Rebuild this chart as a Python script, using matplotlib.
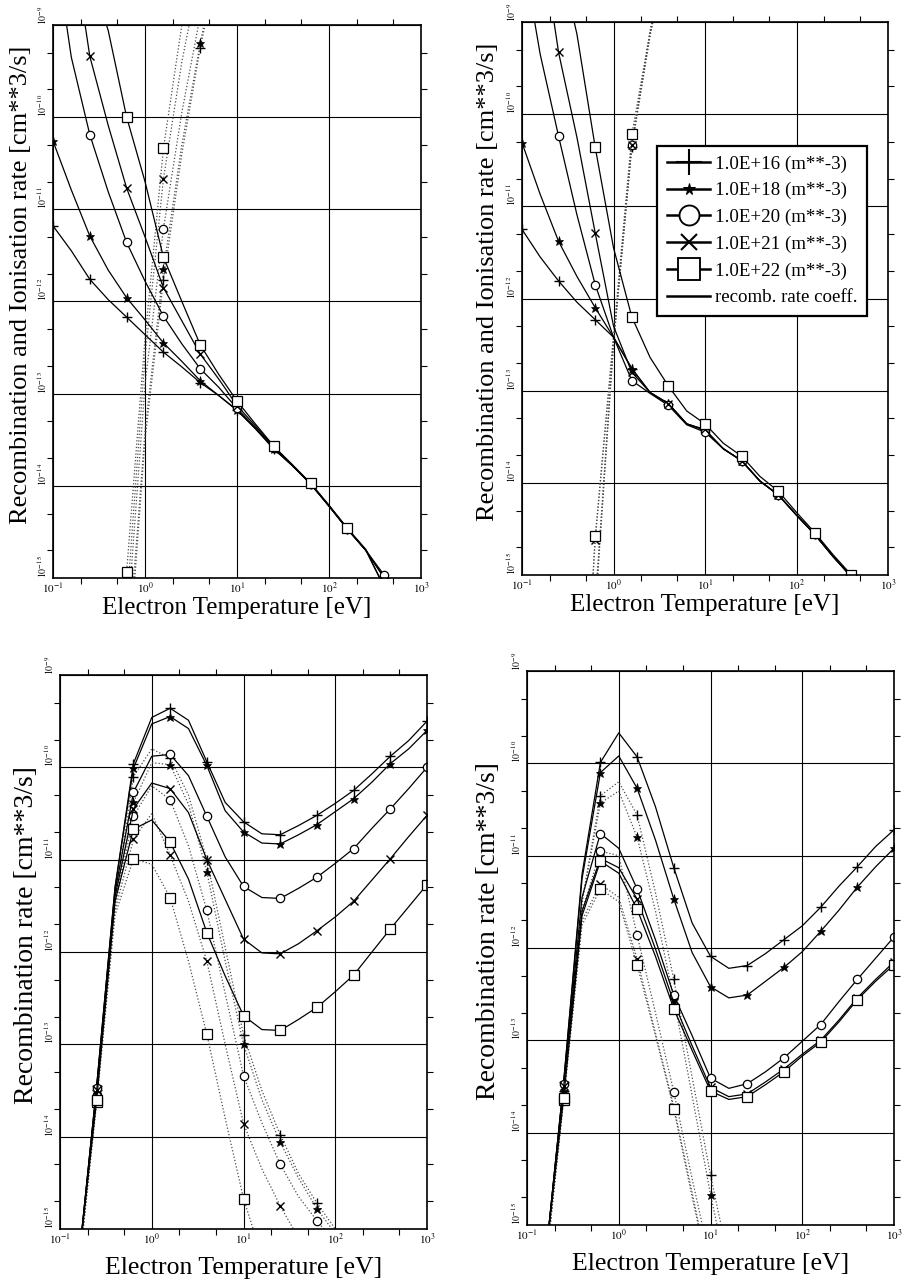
import numpy as np
import matplotlib
matplotlib.use("Agg")
import matplotlib.pyplot as plt
import matplotlib.transforms as mtransforms
from matplotlib.lines import Line2D
from matplotlib.ticker import LogLocator, NullFormatter

plt.rcParams['font.family'] = ['Liberation Serif', 'DejaVu Serif']
plt.rcParams['mathtext.fontset'] = 'stix'

nan = float('nan')

# electron temperature grid [eV] (curves every 0.2 decade, symbols every 0.4 decade)
te = [0.1, 0.158, 0.251, 0.398, 0.631, 1.0, 1.585, 2.512, 3.981, 6.31, 10.0,
      15.85, 25.12, 39.81, 63.1, 100.0, 158.5, 251.2, 398.1, 631.0, 1000.0]

dens_labels = ['1.0E+16 (m**-3)', '1.0E+18 (m**-3)', '1.0E+20 (m**-3)',
               '1.0E+21 (m**-3)', '1.0E+22 (m**-3)']
marks = ['+', '*', 'o', 'x', 's']

# all rates given as log10 of [cm**3/s]

# top left panel
tl_16 = [-11.18, -11.45, -11.76, -11.98, -12.17, -12.36, -12.55, -12.71, -12.88, -13.02, -13.18,
         -13.38, -13.60, -13.78, -13.98, -14.22, -14.47, -14.70, -15.0, -15.25, -15.5]
tl_18 = [-10.26, -10.79, -11.29, -11.66, -11.96, -12.20, -12.45, -12.65, -12.86, -13.02, -13.18,
         -13.38, -13.60, -13.78, -13.98, -14.22, -14.47, -14.70, -15.0, -15.25, -15.5]
tl_20 = [-8.0, -9.35, -10.19, -10.81, -11.36, -11.78, -12.16, -12.46, -12.73, -12.93, -13.16,
         -13.37, -13.59, -13.78, -13.98, -14.22, -14.47, -14.70, -14.97, -15.25, -15.5]
tl_21 = [-7.0, -8.0, -9.34, -10.09, -10.77, -11.30, -11.85, -12.21, -12.57, -12.84, -13.13,
         -13.35, -13.58, -13.77, -13.98, -14.22, -14.47, -14.70, -15.1, -15.25, -15.5]
tl_22 = [-6.5, -7.5, -8.45, -9.06, -10.0, -10.70, -11.52, -12.0, -12.47, -12.79, -13.08,
         -13.33, -13.57, -13.77, -13.97, -14.21, -14.46, -14.69, -15.1, -15.25, -15.5]
tl_16d = [nan, nan, nan, -18.0, -16.2, -13.5, -11.77, -10.4, -9.25, -8.3] + [nan] * 11
tl_18d = [nan, nan, nan, -18.0, -16.0, -13.4, -11.65, -10.3, -9.2, -8.2] + [nan] * 11
tl_20d = [nan, nan, nan, -18.0, -15.6, -12.9, -11.21, -9.95, -8.9, nan] + [nan] * 11
tl_21d = [nan, nan, nan, -18.0, -15.3, -12.6, -10.67, -9.4, -8.4, nan] + [nan] * 11
tl_22d = [nan, nan, nan, -18.0, -14.93, -12.4, -10.34, -9.0, -8.0, nan] + [nan] * 11

# top right panel
tr_16 = [-11.25, -11.55, -11.81, -12.04, -12.23, -12.42, -12.76, -13.02, -13.14, -13.36, -13.43,
         -13.63, -13.76, -13.98, -14.13, -14.35, -14.56, -14.80, -15.02, -15.3, -15.6]
tr_18 = [-10.31, -10.87, -11.38, -11.76, -12.10, -12.42, -12.76, -13.02, -13.14, -13.36, -13.43,
         -13.63, -13.76, -13.98, -14.13, -14.35, -14.56, -14.80, -15.02, -15.3, -15.6]
tr_20 = [-8.2, -9.35, -10.24, -11.09, -11.85, -12.42, -12.89, -13.03, -13.16, -13.37, -13.45,
         -13.63, -13.76, -13.98, -14.13, -14.35, -14.56, -14.80, -15.02, -15.3, -15.6]
tr_21 = [-7.0, -8.0, -9.33, -10.25, -11.29, -12.30, -12.80, -13.02, -13.14, -13.36, -13.42,
         -13.63, -13.76, -13.98, -14.13, -14.35, -14.56, -14.80, -15.02, -15.3, -15.6]
tr_22 = [-6.5, -7.5, -8.26, -9.13, -10.36, -11.45, -12.20, -12.64, -12.95, -13.22, -13.36,
         -13.57, -13.71, -13.93, -14.09, -14.32, -14.54, -14.78, -15.0, -15.3, -15.6]
tr_16d = [nan, nan, nan, -18.0, -15.4, -12.5, -10.36, -9.15, -8.2] + [nan] * 12
tr_18d = [nan, nan, nan, -18.0, -15.35, -12.48, -10.33, -9.13, -8.2] + [nan] * 12
tr_20d = [nan, nan, nan, -18.0, -15.3, -12.46, -10.33, -9.12, -8.2] + [nan] * 12
tr_21d = [nan, nan, nan, -18.0, -14.62, -12.44, -10.33, -9.10, -8.2] + [nan] * 12
tr_22d = [nan, nan, nan, -18.0, -14.58, -12.40, -10.22, -9.10, -8.2] + [nan] * 12

# bottom left panel
bl_16 = [-17.5, -15.4, -13.45, -11.30, -9.96, -9.46, -9.36, -9.49, -9.94, -10.38, -10.59,
         -10.72, -10.73, -10.63, -10.52, -10.39, -10.25, -10.07, -9.88, -9.71, -9.50]
bl_18 = [-17.5, -15.4, -13.45, -11.30, -10.01, -9.53, -9.45, -9.58, -9.98, -10.47, -10.70,
         -10.82, -10.83, -10.73, -10.62, -10.48, -10.34, -10.16, -9.96, -9.80, -9.60]
bl_20 = [-17.5, -15.4, -13.47, -11.35, -10.27, -9.88, -9.86, -10.09, -10.53, -10.97, -11.29,
         -11.41, -11.42, -11.31, -11.19, -11.04, -10.88, -10.66, -10.45, -10.23, -10.0]
bl_21 = [-17.5, -15.4, -13.50, -11.40, -10.45, -10.17, -10.23, -10.49, -11.0, -11.43, -11.86,
         -12.01, -12.02, -11.91, -11.77, -11.62, -11.45, -11.22, -10.99, -10.75, -10.52]
bl_22 = [-17.5, -15.4, -13.60, -11.45, -10.67, -10.57, -10.81, -11.21, -11.79, -12.26, -12.69,
         -12.84, -12.85, -12.73, -12.60, -12.43, -12.25, -12.0, -11.75, -11.51, -11.27]
bl_16d = [nan, -15.5, -13.50, -11.45, -10.10, -9.80, -9.90, -10.30, -11.0, -11.95, -12.90,
          -13.50, -13.98, -14.40, -14.72, -15.0, -15.3, nan, nan, nan, nan]
bl_18d = [nan, -15.5, -13.52, -11.48, -10.38, -9.95, -9.97, -10.40, -11.13, -12.10, -13.0,
          -13.60, -14.06, -14.45, -14.78, -15.05, -15.35, nan, nan, nan, nan]
bl_20d = [nan, -15.5, -13.55, -11.50, -10.53, -10.20, -10.35, -10.85, -11.55, -12.45, -13.34,
          -13.85, -14.30, -14.65, -14.91, -15.15, nan, nan, nan, nan, nan]
bl_21d = [nan, -15.5, -13.58, -11.55, -10.78, -10.50, -10.95, -11.45, -12.10, -13.0, -13.86,
          -14.35, -14.75, -15.10, nan, nan, nan, nan, nan, nan, nan]
bl_22d = [nan, -15.5, -13.63, -11.60, -10.99, -11.05, -11.41, -12.10, -12.89, -13.80, -14.67,
          -15.30, nan, nan, nan, nan, nan, nan, nan, nan, nan]

# bottom right panel
br_16 = [-17.5, -15.4, -13.45, -11.20, -9.99, -9.67, -9.93, -10.47, -11.13, -11.73, -12.09,
         -12.22, -12.19, -12.06, -11.91, -11.76, -11.56, -11.33, -11.12, -10.90, -10.72]
br_18 = [-17.5, -15.4, -13.45, -11.25, -10.10, -9.92, -10.27, -10.83, -11.47, -12.05, -12.42,
         -12.54, -12.51, -12.36, -12.21, -12.04, -11.82, -11.59, -11.34, -11.12, -10.92]
br_20 = [-17.5, -15.4, -13.47, -11.45, -10.76, -10.92, -11.36, -11.91, -12.51, -12.95, -13.41,
         -13.52, -13.47, -13.34, -13.19, -13.01, -12.83, -12.58, -12.34, -12.11, -11.88]
br_21 = [-17.5, -15.4, -13.50, -11.60, -11.03, -11.13, -11.47, -12.01, -12.59, -13.06, -13.51,
         -13.61, -13.58, -13.45, -13.31, -13.15, -13.0, -12.78, -12.54, -12.34, -12.15]
br_22 = [-17.5, -15.4, -13.62, -11.65, -11.06, -11.19, -11.58, -12.09, -12.66, -13.11, -13.55,
         -13.64, -13.61, -13.48, -13.34, -13.17, -13.02, -12.80, -12.56, -12.36, -12.18]
br_16d = [nan, -15.5, -13.55, -11.50, -10.35, -10.20, -10.56, -11.40, -12.34, -13.40, -14.46,
          -15.40] + [nan] * 9
br_18d = [nan, -15.5, -13.55, -11.50, -10.43, -10.30, -10.80, -11.60, -12.55, -13.60, -14.67,
          -15.60] + [nan] * 9
br_20d = [nan, -15.5, -13.60, -11.60, -10.95, -11.0, -11.86, -12.70, -13.56, -14.50, -15.40,
          nan] + [nan] * 9
br_21d = [nan, -15.5, -13.60, -11.70, -11.31, -11.45, -12.12, -12.92, -13.72, -14.65, -15.60,
          nan] + [nan] * 9
br_22d = [nan, -15.5, -13.65, -11.75, -11.36, -11.50, -12.18, -12.95, -13.74, -14.70, -15.60,
          nan] + [nan] * 9

mstyle = {
    '+': dict(ms=7, mew=1.0, mec='k'),
    '*': dict(ms=6.5, mfc='k', mec='k', mew=0.5),
    'o': dict(ms=6, mfc='white', mec='k', mew=0.9),
    'x': dict(ms=5.5, mew=1.0, mec='k'),
    's': dict(ms=6.5, mfc='white', mec='k', mew=0.9),
}
legend_scale = {'+': 2.6, '*': 1.3, 'o': 2.4, 'x': 2.0, 's': 2.4}

xt = [0.1, 1, 10, 100, 1000]
xtl = [r'$10^{-1}$', r'$10^{0}$', r'$10^{1}$', r'$10^{2}$', r'$10^{3}$']
yt = [1e-15, 1e-14, 1e-13, 1e-12, 1e-11, 1e-10, 1e-9]
ytl = [r'$10^{-15}$', r'$10^{-14}$', r'$10^{-13}$', r'$10^{-12}$',
       r'$10^{-11}$', r'$10^{-10}$', r'$10^{-9}$']


def draw(ax, solid, dotted):
    for ys, m in zip(dotted, marks):
        ax.plot(te, 10.0 ** np.array(ys), ls=':', color='0.3', lw=0.9,
                marker=m, markevery=2, **mstyle[m])
    for ys, m in zip(solid, marks):
        ax.plot(te, 10.0 ** np.array(ys), color='k', lw=0.9,
                marker=m, markevery=2, **mstyle[m])


def setup(ax, ylabel, ylx, xly, ysize, xsize):
    ax.set_xscale('log')
    ax.set_yscale('log')
    ax.set_xlim(0.1, 1000)
    ax.set_ylim(1e-15, 1e-9)
    ax.set_xticks(xt)
    ax.set_xticklabels(xtl, fontsize=8)
    ax.set_yticks(yt)
    ax.set_yticklabels(ytl, fontsize=7, rotation=90, va='bottom')
    off = mtransforms.ScaledTranslation(0, 4 / 72, fig.dpi_scale_trans)
    for lab in ax.get_yticklabels():
        lab.set_transform(lab.get_transform() + off)
    ax.xaxis.set_minor_locator(LogLocator(base=10, subs=(2.0, 5.0), numticks=20))
    ax.yaxis.set_minor_locator(LogLocator(base=10, subs=(2.0, 5.0), numticks=20))
    ax.xaxis.set_minor_formatter(NullFormatter())
    ax.yaxis.set_minor_formatter(NullFormatter())
    ax.tick_params(which='minor', direction='out', length=4, width=0.8,
                   top=True, right=True)
    ax.tick_params(which='major', length=0)
    ax.tick_params(axis='x', which='major', pad=2)
    ax.tick_params(axis='y', which='major', pad=3)
    ax.grid(True, which='major', color='k', lw=0.8)
    for s in ax.spines.values():
        s.set_linewidth(1.2)
    ax.set_xlabel('Electron Temperature [eV]', fontsize=xsize)
    ax.xaxis.set_label_coords(0.5, xly)
    ax.set_ylabel(ylabel, fontsize=ysize)
    ax.yaxis.set_label_coords(ylx, 0.53)


fig = plt.figure(figsize=(9.08, 12.85), dpi=100)

ax1 = fig.add_axes([0.0584, 0.5502, 0.4053, 0.4304])
ax2 = fig.add_axes([0.5749, 0.5525, 0.4031, 0.4304])
ax3 = fig.add_axes([0.0661, 0.0436, 0.4042, 0.4311])
ax4 = fig.add_axes([0.5804, 0.0467, 0.4042, 0.4311])

draw(ax1, [tl_16, tl_18, tl_20, tl_21, tl_22], [tl_16d, tl_18d, tl_20d, tl_21d, tl_22d])
draw(ax2, [tr_16, tr_18, tr_20, tr_21, tr_22], [tr_16d, tr_18d, tr_20d, tr_21d, tr_22d])
draw(ax3, [bl_16, bl_18, bl_20, bl_21, bl_22], [bl_16d, bl_18d, bl_20d, bl_21d, bl_22d])
draw(ax4, [br_16, br_18, br_20, br_21, br_22], [br_16d, br_18d, br_20d, br_21d, br_22d])

ylab_top = 'Recombination and Ionisation rate [cm**3/s]'
ylab_bot = 'Recombination rate [cm**3/s]'
setup(ax1, ylab_top, -0.056, -0.034, 19, 18)
setup(ax2, ylab_top, -0.064, -0.034, 19, 18)
setup(ax3, ylab_bot, -0.058, -0.05, 20, 18.5)
setup(ax4, ylab_bot, -0.070, -0.05, 20, 18.5)

handles = []
for m in marks:
    st = dict(mstyle[m])
    st['ms'] = st['ms'] * legend_scale[m]
    st['mew'] = st['mew'] * 1.5
    handles.append(Line2D([], [], color='k', lw=1.8, marker=m, **st))
handles.append(Line2D([], [], color='k', lw=1.8))
leg = ax2.legend(handles, dens_labels + ['recomb. rate coeff.'],
                 loc='upper left', bbox_to_anchor=(0.37, 0.776),
                 fontsize=13.6, frameon=True, fancybox=False, edgecolor='k',
                 framealpha=1, handlelength=2.3, handletextpad=0.25,
                 labelspacing=0.5, borderpad=0.5, borderaxespad=0)
leg.get_frame().set_linewidth(1.6)

fig.savefig('out.png', dpi=100)
